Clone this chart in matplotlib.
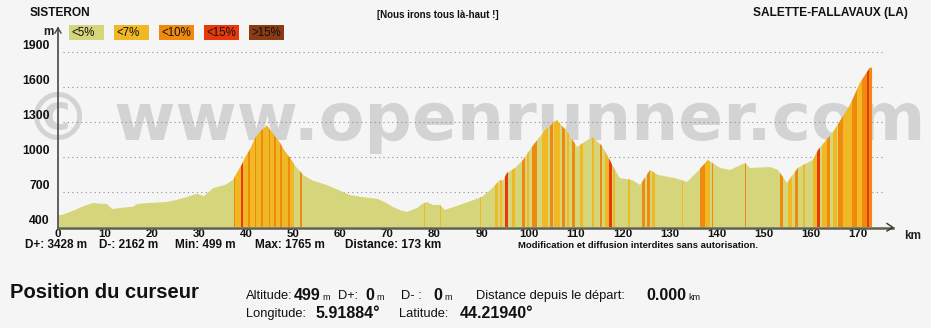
import matplotlib
matplotlib.use('Agg')
import matplotlib.pyplot as plt
from matplotlib import font_manager
from matplotlib.patches import Polygon, Rectangle
from matplotlib.lines import Line2D
import numpy as np

# ---------------- data ----------------
km = [0, 1, 3.6, 5.5, 7.5, 9, 10.4, 11.5, 13, 16, 16.8, 19, 23, 25, 27.4, 29.5, 31, 33, 35.5, 37.2,
      38, 39, 39.7, 41, 41.9, 43, 44.4, 45.5, 47.2, 48, 49.3, 50.5, 52.1, 54, 57.1, 60.6, 62, 65, 68, 70,
      71.2, 73, 74.2, 76.3, 77.5, 78.4, 79.7, 81.2, 82.2, 84, 85.4, 87, 90, 92, 93.9, 94.5, 95.4, 97.1,
      98.8, 100.7, 103.5, 106, 108.4, 110.3, 113.5, 115.5, 116.9, 118, 119.4, 122, 123.7, 125.8, 127.5,
      131, 133.7, 136, 138.1, 140.7, 142.8, 146, 147, 151.3, 153, 154.9, 157.2, 158.5, 160.4, 161.5,
      164.7, 168.3, 170.4, 172.5, 173]
elev = [500, 505, 546, 580, 606, 600, 597, 554, 562, 575, 597, 605, 614, 630, 657, 685, 665, 734, 760, 803,
        863, 930, 991, 1080, 1163, 1220, 1270, 1210, 1120, 1060, 991, 920, 846, 800, 760, 700, 674, 655, 640, 600,
        571, 540, 529, 563, 600, 614, 589, 589, 546, 571, 589, 612, 657, 720, 803, 795, 863, 906,
        974, 1086, 1231, 1317, 1206, 1086, 1171, 1100, 1000, 914, 820, 803, 760, 889, 846,
        820, 786, 880, 974, 906, 889, 949, 906, 914, 889, 777, 906, 935, 974, 1060,
        1214, 1446, 1634, 1765, 1765]

# gradient stripes: start km, end km, class index
stripe_start = [37.3, 37.7, 38.8, 39.4, 40.3, 40.7, 41.8, 42.1, 43.2, 43.5, 44.8, 45.1, 46.0, 46.3, 47.2, 47.5,
                48.8, 49.3, 51.4, 77.7, 81.1, 89.6, 92.9, 94.0, 95.0, 96.5, 98.6, 99.7, 100.7, 102.8, 104.5,
                105.4, 107.1, 108.2, 109.2, 110.9, 113.5, 115.2, 116.3, 117.0, 117.9, 121.1, 124.1, 125.2,
                126.2, 132.7, 136.4, 137.5, 138.9, 145.9, 153.4, 155.1, 156.6, 158.3, 160.5, 161.3, 162.3,
                163.4, 164.7, 165.7, 166.8, 168.7, 169.8, 170.8, 171.9, 172.4]
stripe_end = [37.7, 38.8, 39.4, 40.3, 40.7, 41.8, 42.1, 43.2, 43.5, 44.8, 45.1, 46.0, 46.3, 47.2, 47.5, 48.8,
              49.3, 50.2, 51.9, 78.0, 81.4, 89.9, 93.5, 94.4, 95.6, 97.1, 99.2, 100.0, 101.8, 104.1, 105.2,
              106.6, 107.7, 108.6, 109.9, 111.6, 113.8, 115.6, 117.0, 117.7, 118.4, 121.5, 124.7, 125.8,
              126.9, 132.9, 137.5, 138.5, 139.2, 146.3, 154.1, 156.0, 157.2, 158.7, 161.2, 161.9, 163.4,
              164.0, 165.5, 166.8, 168.7, 169.8, 170.8, 171.9, 172.4, 173.0]
stripe_class = [2, 1, 3, 1, 2, 1, 2, 1, 2, 1, 2, 1, 2, 1, 2, 1,
                2, 1, 2, 1, 1, 1, 1, 1, 3, 1, 2, 1, 2, 1, 2,
                1, 2, 1, 2, 1, 1, 2, 1, 3, 1, 1, 2, 2,
                1, 1, 2, 1, 2, 2, 2, 1, 2, 1, 1, 3, 1,
                2, 1, 2, 1, 2, 1, 2, 3, 2]

class_labels = ['<5%', '<7%', '<10%', '<15%', '>15%']
class_colors = ['#d5d67c', '#f0b823', '#ef8a0e', '#e8380e', '#8b3b13']

x_ticks = list(range(0, 171, 10))
y_ticks = [400, 700, 1000, 1300, 1600, 1900]

start_name = 'SISTERON'
end_name = 'SALETTE-FALLAVAUX (LA)'
subtitle = '[Nous irons tous là-haut !]'
stats_labels = ['D+: 3428 m', 'D-: 2162 m', 'Min: 499 m', 'Max: 1765 m', 'Distance: 173 km']
stats_x = [25, 99, 175, 255, 345]
notice = 'Modification et diffusion interdites sans autorisation.'
watermark = '© www.openrunner.com'

# ---------------- figure ----------------
plt.rcParams['font.family'] = ['Liberation Sans', 'DejaVu Sans']
W, H = 931, 328
BG = '#f5f5f5'
fig = plt.figure(figsize=(W / 100, H / 100), dpi=100)
fig.patch.set_facecolor(BG)


def fx(px):
    return px / W


def fy(py):
    return 1 - py / H


def ftext(px, py, s, **kw):
    kw.setdefault('va', 'center')
    return fig.text(fx(px), fy(py), s, **kw)


def fline(xs, ys, **kw):
    fig.add_artist(Line2D([fx(v) for v in xs], [fy(v) for v in ys], transform=fig.transFigure, **kw))


# axes geometry (pixel coordinates of the reference)
X0, X1 = 58, 893
Y0, Y1 = 227, 28
PX_PER_KM = 4.706
PX_PER_M = 175 / 1500
xmax = (X1 - X0) / PX_PER_KM
ymax = 400 + (Y0 - Y1) / PX_PER_M

ax = fig.add_axes([fx(X0), fy(Y0), (X1 - X0) / W, (Y0 - Y1) / H])
ax.set_xlim(0, xmax)
ax.set_ylim(400, ymax)
ax.patch.set_alpha(0)
for s in ax.spines.values():
    s.set_visible(False)

# watermark (behind everything)
wm = fig.text(fx(25), fy(140), watermark, fontsize=55, fontweight='bold', color='#d3d3d3',
              family='DejaVu Sans', va='baseline', ha='left', zorder=-5)
fig.canvas.draw()
w = wm.get_window_extent().width
wm.set_fontsize(55 * 900 / w)

# grid
ax.hlines(y_ticks[1:], 1.0, (885 - X0) / PX_PER_KM, colors='#8c8c8c', linestyles=(0, (1, 3)),
          linewidth=0.8, zorder=1)

# profile
n = len(km)
verts = np.column_stack([np.r_[km, km[::-1]], np.r_[elev, [400] * n]])
profile = Polygon(verts, closed=True, facecolor=class_colors[0], edgecolor='none', zorder=2)
ax.add_patch(profile)
for a, b, c in zip(stripe_start, stripe_end, stripe_class):
    sp = ax.axvspan(a, b, facecolor=class_colors[c], edgecolor='none', zorder=3)
    sp.set_clip_path(profile)

# axes lines
fline([X0, X0], [Y0 + 1, Y1], color='#555555', lw=1.3)
fline([X0 - 3, X0, X0 + 3], [Y1 + 5, Y1, Y1 + 5], color='#444444', lw=1.0)
fline([X0, X1], [Y0 + 0.5, Y0 + 0.5], color='#5e5e4c', lw=1.8)
fline([X1 - 6, X1, X1 - 6], [Y0 - 3.5, Y0 + 0.5, Y0 + 4], color='#333333', lw=1.0)

# ticks
ax.set_xticks(x_ticks)
ax.set_xticklabels([str(v) for v in x_ticks], fontweight='bold')
ax.set_yticks(y_ticks)
ax.set_yticklabels([str(v) for v in y_ticks], fontweight='bold')
ax.tick_params(axis='x', length=0, pad=1.5, labelsize=8.2, colors='#111111')
ax.tick_params(axis='y', length=0, pad=6, labelsize=8.8, colors='#111111')
for t in ax.get_yticklabels():
    t.set_va('bottom')

ftext(54, 32, 'm', ha='right', fontsize=8.5, fontweight='bold', color='#222222')
ftext(904, 236, 'km', ha='left', fontsize=8.5, fontweight='bold', color='#222222')

# header
ftext(30, 13, start_name, ha='left', fontsize=8.6, fontweight='bold', color='#111111')
ftext(377, 15, subtitle, ha='left', fontsize=7, fontweight='bold', color='#111111')
ftext(908, 13, end_name, ha='right', fontsize=8.6, fontweight='bold', color='#111111')

# legend
for i, (lab, col) in enumerate(zip(class_labels, class_colors)):
    lx = 69 + 45 * i
    fig.add_artist(Rectangle((fx(lx), fy(40)), 35 / W, 15 / H, transform=fig.transFigure,
                             facecolor=col, edgecolor='none'))
    ftext(lx + 2, 32.5, lab, ha='left', fontsize=8.3, color='#111111')

# stats
for sx, s in zip(stats_x, stats_labels):
    ftext(sx, 245, s, ha='left', fontsize=8.5, fontweight='bold', color='#111111')
ftext(518, 246, notice, ha='left', fontsize=6.8, fontweight='bold', color='#111111')

# cursor panel
ftext(10, 293, 'Position du curseur', ha='left', fontsize=14.5, fontweight='bold', color='#111111')

try:
    font_manager.findfont(font_manager.FontProperties(family='Liberation Sans Narrow'),
                          fallback_to_default=False)
    narrow = 'Liberation Sans Narrow'
    s_lab, s_num, s_unit = 11.5, 13.5, 7.5
except Exception:
    narrow = 'Liberation Sans'
    s_lab, s_num, s_unit = 9.3, 11.5, 6.5

cursor_alt = 499
cursor_dplus = 0
cursor_dminus = 0
cursor_dist = 0.000
cursor_lon = 5.91884
cursor_lat = 44.21940

line1 = [('Altitude:', 246, 'lab'), (str(cursor_alt), 294, 'num'), ('m', 322, 'unit'),
         ('D+:', 338, 'lab'), (str(cursor_dplus), 365, 'num'), ('m', 376, 'unit'),
         ('D- :', 401, 'lab'), (str(cursor_dminus), 433, 'num'), ('m', 444, 'unit'),
         ('Distance depuis le départ:', 476, 'lab'), (f'{cursor_dist:.3f}', 646, 'num'), ('km', 688, 'unit')]
line2 = [('Longitude:', 246, 'lab'), (f'{cursor_lon:.5f}°', 315, 'num'),
         ('Latitude:', 399, 'lab'), (f'{cursor_lat:.5f}°', 460, 'num')]
for line, yy in ((line1, 296), (line2, 314)):
    for s, xx, kind in line:
        if kind == 'lab':
            ftext(xx, yy, s, ha='left', family=narrow, fontsize=s_lab, color='#111111')
        elif kind == 'num':
            ftext(xx, yy, s, ha='left', family=narrow, fontsize=s_num, fontweight='bold', color='#111111')
        else:
            ftext(xx, yy + 2, s, ha='left', family=narrow, fontsize=s_unit, color='#111111')

fig.savefig('out.png', dpi=100, facecolor=BG)
